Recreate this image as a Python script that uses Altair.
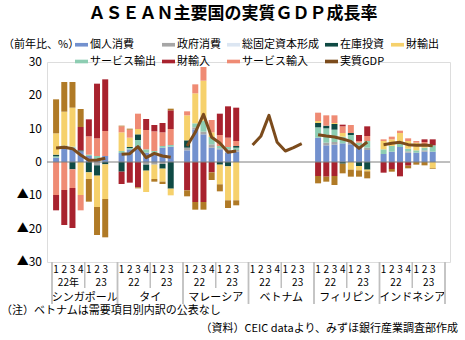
import altair as alt
import pandas as pd

FONT = "Noto Sans CJK JP"

countries = ["シンガポール", "タイ", "マレーシア", "ベトナム", "フィリピン", "インドネシア"]
quarter_labels = ["1", "2", "3", "4", "1", "2", "3"]
year_labels_first = ["22年", "23"]
year_labels_other = ["22", "23"]
y_ticks = [-30, -20, -10, 0, 10, 20, 30]

components = ["個人消費", "政府消費", "総固定資本形成", "在庫投資", "財輸出",
              "サービス輸出", "財輸入", "サービス輸入", "統計上の不突合"]
stack_order = ["個人消費", "政府消費", "総固定資本形成", "サービス輸出", "在庫投資",
               "財輸出", "サービス輸入", "財輸入", "統計上の不突合"]
colors = ["#7391CE", "#A6A6A6", "#DCE6F2", "#0F4A44", "#F6D16C",
          "#8DCDB2", "#A8222E", "#EF8B74", "#B07A26"]
gdp_color = "#7B4B1C"

# contributions (percentage points), 22Q1..23Q3
sg = {
    "個人消費": [1.3, 4.5, 4.3, 3.2, 1.8, 0.8, 1.8],
    "政府消費": [0, 0, 0, 0, 0, -1.0, 0],
    "総固定資本形成": [0, 0, 0, 0, 0, 0, 0],
    "サービス輸出": [0.4, 0, 0.3, 0, 0.4, 1.0, 0],
    "在庫投資": [0.5, 0.4, -2.2, 0.3, -3.1, -3.1, -0.7],
    "財輸出": [6.4, 10.2, 11.7, -9.9, -2.0, -9.4, -10.4],
    "サービス輸入": [-9.9, -8.4, -5.6, -4.6, 5.5, 5.3, 7.5],
    "財輸入": [-4.6, -10.5, -12.0, 7.0, 5.1, 16.4, 15.5],
    "統計上の不突合": [10.2, 8.9, 7.7, 5.4, -6.8, -8.4, -11.5],
}
th = {
    "個人消費": [2.7, 3.8, 4.8, 2.8, 2.5, 4.3, 4.6],
    "政府消費": [0, 0, 0, -0.8, -0.8, -0.6, 0],
    "総固定資本形成": [0, 0, 0, 0, 0, 0, 0],
    "サービス輸出": [0.6, 0.4, 1.8, 1.0, 0.8, 0.5, 0.5],
    "在庫投資": [-2.9, 0.3, 1.7, -1.8, 0, -1.4, -8.0],
    "財輸出": [5.6, 2.8, 1.6, -6.4, -4.3, -3.9, -2.0],
    "サービス輸入": [1.8, 2.4, 4.6, 5.8, 5.9, 4.1, 4.8],
    "財輸入": [-3.7, -6.2, -7.6, 3.3, 1.9, 2.8, 5.6],
    "統計上の不突合": [0.2, 0.3, -0.3, 0, -0.8, -0.7, 0.5],
}
my = {
    "個人消費": [3.5, 9.8, 8.3, 4.3, 3.8, 2.8, 3.1],
    "政府消費": [0.8, 0.6, 0.8, 1.0, 0.3, 1.0, 0.5],
    "総固定資本形成": [0, 0, 0, 0, 0, 0, 0],
    "サービス輸出": [0, 1.2, 3.3, 2.2, 0.7, 0.7, 0.7],
    "在庫投資": [2.2, 0, 0, 0, -0.8, -1.3, 0.5],
    "財輸出": [7.5, 9.0, 12.0, 1.4, -5.9, -10.2, -11.5],
    "サービス輸入": [1.2, 2.7, 4.1, 3.7, 3.3, 2.8, 1.5],
    "財輸入": [-8.5, -12.0, -12.0, -3.1, 6.4, 9.4, 10.0],
    "統計上の不突合": [-1.8, -2.3, -2.3, -2.3, -2.1, -2.3, -1.5],
}
ph = {
    "個人消費": [7.3, 5.0, 5.2, 5.6, 5.3, 4.3, 3.6],
    "政府消費": [0, 0.8, 0.8, 0, 1.0, 0.7, 0.7],
    "総固定資本形成": [0, 0, 0, 0, 0, 0, 0],
    "サービス輸出": [3.1, 4.3, 3.7, 2.0, 1.8, 0.8, 2.0],
    "在庫投資": [1.3, 0.8, 1.7, -0.5, 0.6, -1.2, -2.3],
    "財輸出": [0.6, 0, 0.3, 1.1, -2.3, -1.3, -0.5],
    "サービス輸入": [2.5, 3.1, 2.3, 2.0, 2.4, 0.5, 1.5],
    "財輸入": [-4.2, -4.4, -4.2, 0.5, 0, 1.8, 2.9],
    "統計上の不突合": [-2.2, -1.5, -2.7, -2.9, -2.1, -1.9, -2.1],
}
idn = {
    "個人消費": [2.4, 3.1, 4.5, 2.8, 2.8, 3.1, 3.1],
    "政府消費": [0, 0, 0, 0.4, 0, 0.4, 0],
    "総固定資本形成": [0, 0, 0, 0, 0, 0, 0],
    "サービス輸出": [1.4, 1.7, 1.2, 0.8, 0.7, 0.8, 1.9],
    "在庫投資": [0, 0, 0.3, 0, 0, 0, 0],
    "財輸出": [2.5, 2.0, 2.7, 2.3, 2.3, 1.0, -1.9],
    "サービス輸入": [0.5, 0.8, 0.7, 0.8, 0.5, 0.7, 0],
    "財輸入": [-3.2, -2.1, -4.3, -1.1, 0, 0.8, 1.8],
    "統計上の不突合": [0, -0.8, 0, -0.8, -0.8, -1.0, -0.2],
}
contrib = {"シンガポール": sg, "タイ": th, "マレーシア": my, "フィリピン": ph, "インドネシア": idn}

gdp = {
    "シンガポール": [4.2, 4.4, 4.0, 2.1, 0.5, 0.6, 1.1],
    "タイ": [2.3, 2.5, 4.6, 1.3, 2.6, 1.8, 1.4],
    "マレーシア": [4.8, 8.9, 14.3, 7.4, 5.7, 2.9, 3.3],
    "ベトナム": [5.1, 7.7, 14.0, 5.9, 3.3, 4.3, 5.5],
    "フィリピン": [8.2, 7.8, 7.5, 6.9, 6.2, 4.1, 6.0],
    "インドネシア": [5.2, 5.6, 5.9, 5.2, 5.0, 5.1, 4.9],
}

title_text = "ＡＳＥＡＮ主要国の実質ＧＤＰ成長率"
unit_text = "（前年比、%）"
note_text = "（注）ベトナムは需要項目別内訳の公表なし"
source_text = "（資料）CEIC dataより、みずほ銀行産業調査部作成"

SLOTS = 8

# ---- tables ----
bar_rows = []
for ci, c in enumerate(countries):
    if c not in contrib:
        continue
    for comp, vals in contrib[c].items():
        for qi, v in enumerate(vals):
            if v != 0:
                bar_rows.append({"slot": ci * SLOTS + qi, "comp": comp, "value": v,
                                 "ord": stack_order.index(comp)})
bars_df = pd.DataFrame(bar_rows)

gdp_rows = []
for ci, c in enumerate(countries):
    for qi, v in enumerate(gdp[c]):
        gdp_rows.append({"slot": ci * SLOTS + qi, "country": c, "gdp": v})
gdp_df = pd.DataFrame(gdp_rows)

q_rows, y_rows, c_rows, ysep_rows, csep_rows = [], [], [], [], []
for ci, c in enumerate(countries):
    for qi, q in enumerate(quarter_labels):
        q_rows.append({"slot": ci * SLOTS + qi, "t": q})
    yl = year_labels_first if ci == 0 else year_labels_other
    y_rows.append({"slot": ci * SLOTS + 1.5, "t": yl[0]})
    y_rows.append({"slot": ci * SLOTS + 5.5, "t": yl[1]})
    c_rows.append({"slot": ci * SLOTS + 3.5, "t": c})
    ysep_rows.append({"slot": ci * SLOTS + 3.5})
    csep_rows.append({"slot": ci * SLOTS - 0.5})
csep_rows.append({"slot": len(countries) * SLOTS - 0.5})

tick_df = pd.DataFrame({
    "v": y_ticks,
    "t": [("▲" + str(-v)) if v < 0 else str(v) for v in y_ticks],
})

xs = alt.Scale(domain=[-0.5, len(countries) * SLOTS - 0.5], nice=False, zero=False)
ys = alt.Scale(domain=[-30, 30], nice=False)

legend_vals = ["個人消費", "政府消費", "総固定資本形成", "在庫投資", "財輸出",
               "サービス輸出", "財輸入", "サービス輸入", "実質GDP"]

bars = alt.Chart(bars_df).mark_bar(size=6).encode(
    x=alt.X("slot:Q", scale=xs, axis=None),
    y=alt.Y("value:Q", stack="zero", scale=ys, title=None,
            axis=alt.Axis(values=y_ticks, grid=False, labels=False,
                          domainColor="#BFBFBF", domainWidth=2, tickColor="#A6A6A6",
                          tickSize=3)),
    color=alt.Color("comp:N",
                    scale=alt.Scale(domain=components + ["実質GDP"], range=colors + [gdp_color]),
                    legend=alt.Legend(values=legend_vals, orient="none", legendX=28, legendY=-24,
                                      direction="horizontal", columns=5, title=None,
                                      symbolType="M-1,-0.28H1V0.28H-1Z", symbolSize=169,
                                      symbolStrokeWidth=0, labelFont=FONT, labelFontSize=11,
                                      labelColor="#000000", labelOffset=2, columnPadding=6,
                                      rowPadding=5, labelLimit=200)),
    order=alt.Order("ord:Q", sort="ascending"),
)

# y tick labels drawn as text through the y scale
ylabels = alt.Chart(tick_df).mark_text(font=FONT, fontSize=12, color="#000000", align="right",
                                       baseline="middle").encode(
    x=alt.value(-5), y=alt.Y("v:Q", scale=ys, axis=None), text="t:N")

zero = alt.Chart(pd.DataFrame({"v": [0]})).mark_rule(color="#7F7F7F", strokeWidth=1).encode(
    y=alt.Y("v:Q", scale=ys, axis=None))

line = alt.Chart(gdp_df).mark_line(color=gdp_color, strokeWidth=3, strokeJoin="round").encode(
    x=alt.X("slot:Q", scale=xs, axis=None), y=alt.Y("gdp:Q", scale=ys, axis=None),
    detail="country:N")

qtext = alt.Chart(pd.DataFrame(q_rows)).mark_text(font=FONT, fontSize=10, color="#000000").encode(
    x=alt.X("slot:Q", scale=xs, axis=None), y=alt.value(208), text="t:N")
ytext = alt.Chart(pd.DataFrame(y_rows)).mark_text(font=FONT, fontSize=10, color="#000000").encode(
    x=alt.X("slot:Q", scale=xs, axis=None), y=alt.value(221), text="t:N")
ctext = alt.Chart(pd.DataFrame(c_rows)).mark_text(font=FONT, fontSize=11, color="#000000").encode(
    x=alt.X("slot:Q", scale=xs, axis=None), y=alt.value(235.5), text="t:N")

ysep = alt.Chart(pd.DataFrame(ysep_rows)).mark_rule(color="#BFBFBF", strokeWidth=1.5).encode(
    x=alt.X("slot:Q", scale=xs, axis=None), y=alt.value(200), y2=alt.value(226))
csep = alt.Chart(pd.DataFrame(csep_rows)).mark_rule(color="#BFBFBF", strokeWidth=1.8).encode(
    x=alt.X("slot:Q", scale=xs, axis=None), y=alt.value(200), y2=alt.value(242))

title = alt.Chart(pd.DataFrame({"t": [title_text]})).mark_text(
    font=FONT, fontSize=17, fontWeight="bold", color="#000000").encode(
    x=alt.value(186), y=alt.value(-48), text="t:N")
unit = alt.Chart(pd.DataFrame({"t": [unit_text]})).mark_text(
    font=FONT, fontSize=11, color="#000000", align="left").encode(
    x=alt.value(-44), y=alt.value(-17), text="t:N")
note = alt.Chart(pd.DataFrame({"t": [note_text]})).mark_text(
    font=FONT, fontSize=11, color="#000000", align="left").encode(
    x=alt.value(-46), y=alt.value(249), text="t:N")
source = alt.Chart(pd.DataFrame({"t": [source_text]})).mark_text(
    font=FONT, fontSize=11, color="#000000", align="right").encode(
    x=alt.value(411), y=alt.value(267), text="t:N")

chart = alt.layer(bars, ylabels, zero, line, qtext, ytext, ctext, ysep, csep,
                  title, unit, note, source).properties(
    width=403, height=200,
    padding={"left": 47, "top": 62, "right": 15, "bottom": 78},
    autosize=alt.AutoSizeParams(type="none"),
).configure_view(stroke=None).configure(background="white")

chart.save("out.html", embed_options={"renderer": "svg", "actions": False})
